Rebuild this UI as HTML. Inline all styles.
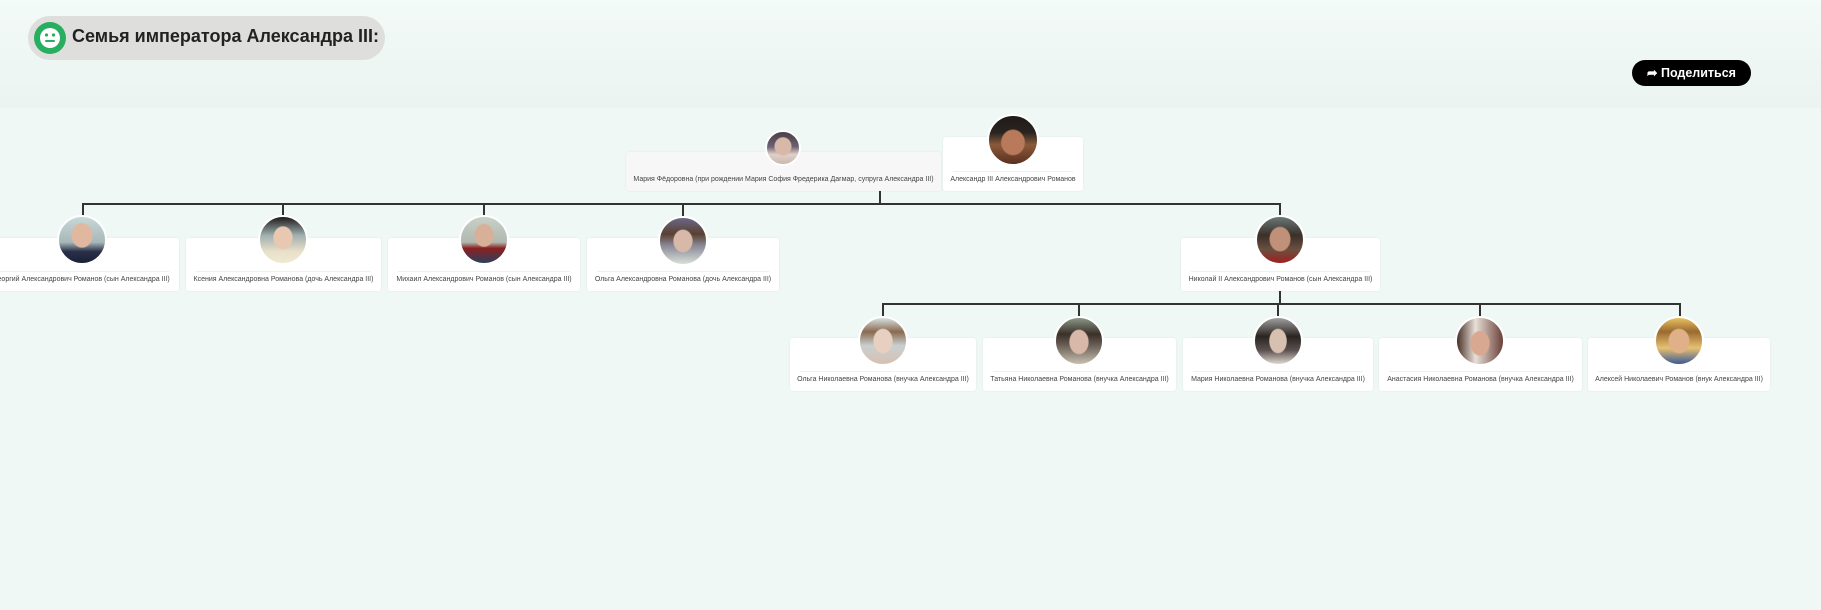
<!DOCTYPE html>
<html><head><meta charset="utf-8"><style>
*{margin:0;padding:0;box-sizing:border-box}
body{width:1821px;height:610px;overflow:hidden;background:#f0f8f5;font-family:"Liberation Sans",sans-serif;position:relative}
.hdr{position:absolute;left:0;top:0;width:1821px;height:108px;background:linear-gradient(#f3faf8,#ebf4f1)}
.pill{position:absolute;left:28px;top:16px;width:357px;height:44px;border-radius:22px;background:#dededc}
.ic{position:absolute;left:34px;top:22px;width:32px;height:32px;border-radius:50%;background:#27ae60}
.ttl{position:absolute;left:72px;top:26px;font-size:18px;font-weight:bold;color:#222;white-space:nowrap}
.share{position:absolute;left:1632px;top:60px;width:119px;height:26px;border-radius:13px;background:#000;color:#fff;font-size:12.5px;font-weight:bold;line-height:26px;text-align:center}
.card{position:absolute;background:#fff;border-radius:3px;box-shadow:0 0 2px rgba(0,0,0,.07)}
.sep{position:absolute;left:10px;right:10px;height:1px;background:#f0f0f0;bottom:19px}
.tx{position:absolute;left:-20px;right:-20px;bottom:6px;text-align:center;font-size:7px;color:#444;white-space:nowrap;line-height:10px}
.ph{position:absolute;border-radius:50%;border:2px solid #fff}
.h,.v{position:absolute;background:#333}
.h{height:2px}.v{width:2px}
</style></head><body>
<div class="hdr"></div>
<div class="pill"></div>
<div class="ic"><svg width="32" height="32"><circle cx="16" cy="16" r="10" fill="#fff"/><circle cx="12.5" cy="13" r="1.6" fill="#27ae60"/><circle cx="19.5" cy="13" r="1.6" fill="#27ae60"/><rect x="11" y="18" width="10" height="2" rx="1" fill="#27ae60"/></svg></div>
<div class="ttl">Семья императора Александра III:</div>
<div class="share">&#10150; Поделиться</div>

<!-- lines -->
<div class="v" style="left:879px;top:191px;height:13px"></div>
<div class="h" style="left:83px;top:203px;width:1198px"></div>
<div class="v" style="left:82px;top:203px;height:14px"></div>
<div class="v" style="left:282px;top:203px;height:14px"></div>
<div class="v" style="left:483px;top:203px;height:14px"></div>
<div class="v" style="left:682px;top:203px;height:14px"></div>
<div class="v" style="left:1279px;top:203px;height:14px"></div>
<div class="v" style="left:1279px;top:291px;height:13px"></div>
<div class="h" style="left:883px;top:303px;width:798px"></div>
<div class="v" style="left:882px;top:303px;height:14px"></div>
<div class="v" style="left:1078px;top:303px;height:14px"></div>
<div class="v" style="left:1277px;top:303px;height:14px"></div>
<div class="v" style="left:1479px;top:303px;height:14px"></div>
<div class="v" style="left:1679px;top:303px;height:14px"></div>

<!-- parents -->
<div class="card" style="left:626px;top:152px;width:315px;height:39px;background:#f7f7f7"><div class="tx">Мария Фёдоровна (при рождении Мария София Фредерика Дагмар, супруга Александра III)</div></div>
<div class="ph" style="left:765px;top:130px;width:36px;height:36px;background:radial-gradient(ellipse 28% 30% at 50% 45%,#d8b8a8 90%,transparent 100%),linear-gradient(#4a4048 0%,#6a6070 45%,#e0d0c8 70%,#c8b8b0 100%)"></div>
<div class="card" style="left:943px;top:137px;width:140px;height:54px"><div class="sep"></div><div class="tx">Александр III Александрович Романов</div></div>
<div class="ph" style="left:987px;top:114px;width:52px;height:52px;background:radial-gradient(ellipse 26% 28% at 50% 55%,#b87a5a 90%,transparent 100%),linear-gradient(#1e1a18 0%,#2a2420 35%,#8a5a3a 60%,#5a3020 100%)"></div>

<!-- children -->
<div class="card" style="left:-15px;top:238px;width:194px;height:53px"><div class="sep"></div><div class="tx">Георгий Александрович Романов (сын Александра III)</div></div>
<div class="ph" style="left:57px;top:215px;width:50px;height:50px;background:radial-gradient(ellipse 24% 28% at 50% 40%,#e0b8a0 90%,transparent 100%),linear-gradient(#c8d8d8 0%,#a8b8b8 55%,#2a3048 75%,#1a2038 100%)"></div>
<div class="card" style="left:186px;top:238px;width:195px;height:53px"><div class="sep"></div><div class="tx">Ксения Александровна Романова (дочь Александра III)</div></div>
<div class="ph" style="left:258px;top:215px;width:50px;height:50px;background:radial-gradient(ellipse 22% 26% at 50% 45%,#e8c8b0 90%,transparent 100%),linear-gradient(#1e1a1a 0%,#a0b0b0 40%,#e8e0c8 75%,#f0e8d0 100%)"></div>
<div class="card" style="left:388px;top:238px;width:192px;height:53px"><div class="sep"></div><div class="tx">Михаил Александрович Романов (сын Александра III)</div></div>
<div class="ph" style="left:459px;top:215px;width:50px;height:50px;background:radial-gradient(ellipse 22% 26% at 50% 40%,#d8b098 90%,transparent 100%),linear-gradient(#c8d0c8 0%,#b0b8b0 55%,#8a2020 68%,#2a4060 100%)"></div>
<div class="card" style="left:587px;top:238px;width:192px;height:53px"><div class="sep"></div><div class="tx">Ольга Александровна Романова (дочь Александра III)</div></div>
<div class="ph" style="left:658px;top:216px;width:50px;height:50px;background:radial-gradient(ellipse 22% 26% at 50% 50%,#d8b8a8 90%,transparent 100%),linear-gradient(#6a6888 0%,#5a4030 35%,#8a8898 60%,#d8e0d8 100%)"></div>
<div class="card" style="left:1181px;top:238px;width:199px;height:53px"><div class="sep"></div><div class="tx">Николай II Александрович Романов (сын Александра III)</div></div>
<div class="ph" style="left:1255px;top:215px;width:50px;height:50px;background:radial-gradient(ellipse 24% 28% at 50% 48%,#c09078 90%,transparent 100%),linear-gradient(#6a7878 0%,#3a3028 40%,#6a5040 70%,#a02020 100%)"></div>

<!-- grandchildren -->
<div class="card" style="left:790px;top:338px;width:186px;height:53px"><div class="sep"></div><div class="tx">Ольга Николаевна Романова (внучка Александра III)</div></div>
<div class="ph" style="left:858px;top:316px;width:50px;height:50px;background:radial-gradient(ellipse 22% 28% at 50% 50%,#e8d0c0 90%,transparent 100%),linear-gradient(#d8e0e0 0%,#8a6a50 30%,#c8d0d0 60%,#d8c0b0 100%)"></div>
<div class="card" style="left:983px;top:338px;width:193px;height:53px"><div class="sep"></div><div class="tx">Татьяна Николаевна Романова (внучка Александра III)</div></div>
<div class="ph" style="left:1054px;top:316px;width:50px;height:50px;background:radial-gradient(ellipse 22% 28% at 50% 52%,#d8b8a8 90%,transparent 100%),linear-gradient(#8a9888 0%,#3a3028 35%,#6a6058 60%,#c8c0b0 100%)"></div>
<div class="card" style="left:1183px;top:338px;width:190px;height:53px"><div class="sep"></div><div class="tx">Мария Николаевна Романова (внучка Александра III)</div></div>
<div class="ph" style="left:1253px;top:316px;width:50px;height:50px;background:radial-gradient(ellipse 20% 28% at 50% 50%,#d8c0b0 90%,transparent 100%),linear-gradient(#a0a0a0 0%,#2a2420 40%,#5a5050 70%,#e0d8d0 100%)"></div>
<div class="card" style="left:1379px;top:338px;width:203px;height:53px"><div class="sep"></div><div class="tx">Анастасия Николаевна Романова (внучка Александра III)</div></div>
<div class="ph" style="left:1455px;top:316px;width:50px;height:50px;background:radial-gradient(ellipse 22% 28% at 50% 55%,#d8a890 90%,transparent 100%),linear-gradient(90deg,#4a3028 0%,#e8e0d8 40%,#6a4038 100%)"></div>
<div class="card" style="left:1588px;top:338px;width:182px;height:53px"><div class="sep"></div><div class="tx">Алексей Николаевич Романов (внук Александра III)</div></div>
<div class="ph" style="left:1654px;top:316px;width:50px;height:50px;background:radial-gradient(ellipse 24% 28% at 50% 50%,#e0b088 90%,transparent 100%),linear-gradient(#e8c060 0%,#9a6a30 30%,#e8c070 65%,#3a5a98 100%)"></div>
</body></html>
